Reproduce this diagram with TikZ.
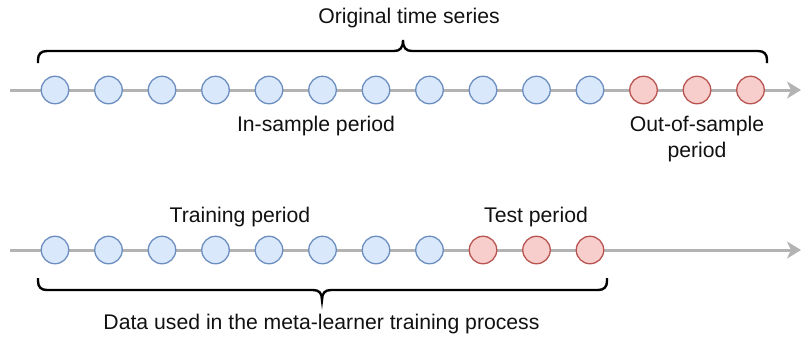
\documentclass[tikz,border=0pt]{standalone}
\usepackage{fontspec}
\setmainfont{Liberation Sans}
\usetikzlibrary{arrows.meta}
\definecolor{bfill}{HTML}{DAE8FC}
\definecolor{bdraw}{HTML}{6C8EBF}
\definecolor{rfill}{HTML}{F8CECC}
\definecolor{rdraw}{HTML}{B85450}
\definecolor{axisgray}{HTML}{B3B3B3}
\definecolor{txt}{HTML}{111111}
\tikzset{
  bluept/.style={circle,draw=bdraw,fill=bfill,line width=1.3pt,minimum size=27.5pt,inner sep=0pt},
  redpt/.style={circle,draw=rdraw,fill=rfill,line width=1.3pt,minimum size=27.5pt,inner sep=0pt},
  axisline/.style={draw=axisgray,line width=3pt,-{Stealth[length=14pt,width=17pt,inset=4pt]}},
  bracestyle/.style={draw=black,line width=2.4pt},
  lbl/.style={text=txt,font=\fontsize{21.2}{25.5}\selectfont,inner sep=0pt,align=center}
}
\begin{document}
\begin{tikzpicture}[x=1pt,y=-1pt]
\useasboundingbox (0,0) rectangle (802,338);
% top axis
\coordinate (ts) at (10,90);
\coordinate (te) at (801,90);
\draw[axisline] (ts) -- (te);
\foreach \i in {1,...,11} {
  \node[bluept] (t\i) at ({55+53.5*(\i-1)},90) {};
}
\foreach \i in {12,13,14} {
  \node[redpt] (t\i) at ({55+53.5*(\i-1)},90) {};
}
% bottom axis
\coordinate (bs) at (10,250);
\coordinate (be) at (801,250);
\draw[axisline] (bs) -- (be);
\foreach \i in {1,...,8} {
  \node[bluept] (b\i) at ({55+53.5*(\i-1)},250) {};
}
\foreach \i in {9,10,11} {
  \node[redpt] (b\i) at ({55+53.5*(\i-1)},250) {};
}
% top brace
\draw[bracestyle,line cap=butt]
  (38,63) -- (38,60) .. controls (38,54) and (41,51) .. (47,51)
  -- (394,51) .. controls (400,51) and (403,48) .. (403,40)
  .. controls (403,48) and (406,51) .. (412,51)
  -- (758,51) .. controls (764,51) and (767,54) .. (767,60) -- (767,63);
% bottom brace
\draw[bracestyle,line cap=butt]
  (38,278) -- (38,281) .. controls (38,287) and (41,290) .. (47,290)
  -- (313,290) .. controls (319,290) and (322,293) .. (322,300)
  .. controls (322,293) and (325,290) .. (331,290)
  -- (598,290) .. controls (604,290) and (607,287) .. (607,281) -- (607,278);
% labels
\node[lbl] (orig) at (409,18) {Original time series};
\node[lbl] (insample) at (316,126) {In-sample period};
\node[lbl] (outsample) at (697,139) {Out-of-sample\\[1pt]period};
\node[lbl] (train) at (240,217) {Training period};
\node[lbl] (test) at (536,217) {Test period};
\node[lbl] (data) at (321.5,324) {Data used in the meta-learner training process};
\end{tikzpicture}
\end{document}
